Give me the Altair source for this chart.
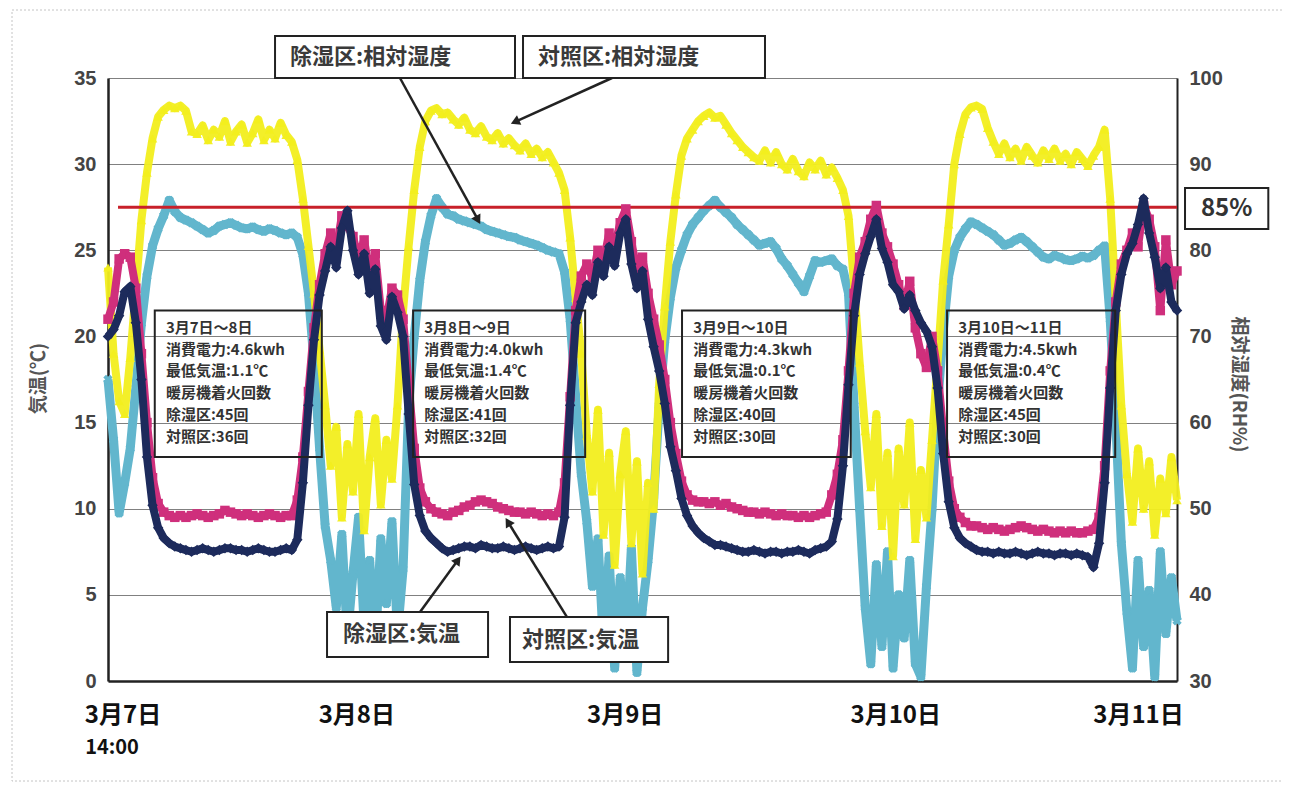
import json
import math
import pandas as pd
import altair as alt

# ---------------- data ----------------
# time: hours since 3月7日 14:00, sampled every 30 minutes
hours = [i * 0.5 for i in range(193)]

# 除湿区:気温 (℃)
temp_dehum = [
    20.0, 20.4, 21.2, 22.6, 22.9, 20.8, 17.5, 13.0, 10.2, 8.9, 8.3, 8.0, 7.8,
    7.7, 7.6, 7.5, 7.6, 7.7, 7.6, 7.5, 7.6, 7.7, 7.7, 7.6, 7.6, 7.5, 7.6, 7.7, 7.6, 7.5, 7.5, 7.6, 7.7, 7.6,
    8.2, 11.5, 16.0, 19.8, 22.4, 23.8, 25.2, 24.0, 26.3, 27.3, 25.0, 23.6, 24.8, 22.5, 23.9, 20.6, 19.8, 22.3,
    21.4, 20.0, 15.5, 11.4, 9.6, 8.7, 8.3, 8.0, 7.7, 7.5,
    7.6, 7.7, 7.8, 7.8, 7.7, 7.9, 7.8, 7.7, 7.7, 7.8, 7.7, 7.6, 7.7, 7.8, 7.7, 7.6, 7.7, 7.8, 7.7, 7.8,
    9.5, 16.0, 20.8, 22.0, 23.0, 22.4, 24.3, 23.5, 25.2, 24.1, 26.0, 26.8, 24.2, 22.8, 23.8, 21.0, 19.4, 18.0,
    16.1, 13.6, 12.2, 10.6, 9.6, 9.0, 8.6, 8.3, 8.1, 7.9, 7.9,
    7.8, 7.7, 7.6, 7.5, 7.5, 7.6, 7.5, 7.4, 7.5, 7.5, 7.4, 7.5, 7.5, 7.6, 7.5, 7.4, 7.6, 7.7, 7.8,
    8.1, 9.4, 12.5, 17.2, 21.2, 23.6, 24.8, 25.8, 26.8, 25.1, 24.3, 23.0, 22.6, 21.6, 22.4, 21.5, 20.8, 20.3,
    19.4, 17.0, 13.2, 10.4, 8.9, 8.3, 8.0, 7.8,
    7.6, 7.5, 7.5, 7.4, 7.5, 7.4, 7.4, 7.5, 7.4, 7.3, 7.4, 7.5, 7.4, 7.4, 7.3, 7.4, 7.4, 7.3, 7.4, 7.3, 7.2, 6.6,
    8.0, 11.5, 17.0, 21.5, 23.6, 24.8, 25.4, 26.5, 28.0, 26.0, 24.6, 22.8, 24.0, 22.0, 21.5,
]

# 対照区:気温 (℃)
temp_ctrl = [
    21.0, 22.0, 24.5, 24.8, 24.6, 22.8, 19.0, 15.0, 11.8, 10.3, 9.8, 9.6,
    9.5, 9.6, 9.5, 9.6, 9.7, 9.6, 9.5, 9.6, 9.7, 9.9, 9.8, 9.7, 9.6, 9.7, 9.6, 9.5, 9.6, 9.7, 9.6, 9.5, 9.6, 9.6,
    10.5, 13.0, 16.8, 20.5, 23.0, 24.8, 26.0, 25.0, 27.0, 26.4, 25.8, 24.5, 25.6, 23.6, 24.8, 21.5, 21.0, 22.8,
    22.4, 21.0, 17.2, 13.5, 11.2, 10.4, 10.0, 9.8,
    9.7, 9.6, 9.8, 9.9, 10.1, 10.2, 10.4, 10.5, 10.4, 10.3, 10.1, 10.0, 9.9, 9.8, 9.8, 9.7, 9.8, 9.7, 9.6, 9.7,
    9.6, 9.8,
    11.5, 16.5, 21.5, 23.5, 24.2, 23.4, 25.0, 24.3, 26.0, 25.2, 26.6, 27.4, 25.5, 23.8, 24.6, 22.5, 21.0, 19.5,
    17.5, 15.0, 13.2, 11.6, 10.8, 10.5,
    10.4, 10.4, 10.3, 10.4, 10.2, 10.3, 10.1, 10.0, 9.9, 9.8, 9.8, 9.7, 9.8, 9.7, 9.6, 9.7, 9.6, 9.6, 9.5, 9.6,
    9.5, 9.6, 9.7, 9.8,
    10.8, 12.0, 14.0, 18.0, 22.5, 24.6, 25.5, 26.8, 27.6, 26.0, 25.2, 24.2, 23.0, 21.8, 23.2, 20.5, 19.0, 18.2,
    20.0, 18.0, 14.5, 11.6, 10.0, 9.5, 9.2,
    9.0, 9.0, 8.9, 8.8, 8.9, 8.8, 8.7, 8.8, 8.9, 9.0, 8.9, 8.8, 8.7, 8.8, 8.7, 8.6, 8.7, 8.6, 8.7, 8.6, 8.6, 8.7, 8.8,
    9.5, 12.5, 18.0, 22.0, 24.2, 25.0, 26.0, 25.2, 27.6, 26.8, 25.2, 21.5, 25.6, 23.0, 23.8,
]

# 除湿区:相対湿度 (RH%)
rh_dehum = [
    65.0, 58.0, 49.5, 53.0, 57.0, 64.0, 71.5, 77.0, 80.5, 82.5, 84.0, 85.8, 84.5, 83.8,
    83.5, 83.2, 82.8, 82.4, 82.0, 82.3, 82.8, 83.0, 83.2, 82.9, 82.6, 82.5, 82.7, 82.4, 82.2, 82.5, 82.3, 82.0,
    81.8, 82.0, 81.5, 79.5,
    75.0, 67.0, 57.0, 48.0,
    44.0, 38.5, 47.0, 35.0, 42.5, 49.0, 36.5, 44.0, 33.5, 46.5, 39.0, 48.5, 35.5, 43.0,
    62.0, 70.0, 76.5, 81.0, 84.0, 86.0, 85.0,
    84.2, 84.0, 83.6, 83.4, 83.2, 83.0, 82.8, 82.4, 82.2, 82.0, 81.8, 81.6, 81.5, 81.2, 81.0, 80.8, 80.6, 80.3,
    80.0, 79.8, 79.6, 77.5,
    72.0, 63.0, 54.0, 48.5,
    41.0, 46.5, 34.0, 44.5, 31.5, 42.0, 33.0, 45.5, 31.0, 38.5, 44.0,
    51.0, 62.0,
    69.5, 74.5, 78.0, 80.0, 81.8, 83.0, 83.8, 84.6, 85.2, 85.8, 85.0, 84.4, 83.8, 83.0, 82.4, 81.8, 81.2, 80.6,
    80.8, 81.0, 80.2, 79.0, 78.2, 77.2, 76.2, 75.2, 77.0, 78.8, 78.6, 78.8, 79.0, 78.2, 77.8, 75.0, 62.0, 50.0,
    38.5, 32.0, 43.5, 34.0, 45.0, 31.5, 40.0, 35.0, 44.0, 32.0, 30.5, 41.0,
    50.0, 62.0, 70.5, 77.0, 80.0, 81.5, 82.5, 83.3, 83.0, 82.6, 82.2,
    81.8, 81.2, 80.6, 80.8, 81.2, 81.5, 81.0, 80.4, 79.8, 79.2, 79.0, 79.4, 79.2, 78.9, 78.8, 79.0, 79.3, 79.1, 79.4,
    80.0, 80.5, 72.0, 60.0, 46.0,
    38.0, 31.5, 44.0, 34.0, 40.5, 30.5, 45.0, 35.5, 42.0, 37.0,
]

# 対照区:相対湿度 (RH%)
rh_ctrl = [
    78.0, 68.0, 62.5, 61.0, 67.5, 75.5, 83.5, 89.0, 93.0, 95.5, 96.3, 96.8, 96.5, 96.8, 96.2, 93.8,
    93.5, 94.5, 92.8, 94.0, 93.2, 95.0, 92.6, 93.8, 94.6, 92.5, 93.6, 95.2, 92.8, 94.0, 93.0, 94.8, 93.4, 92.6,
    90.5, 86.0, 80.5, 75.0, 68.5, 62.0,
    55.0, 59.5, 49.0, 57.5, 52.0, 61.0, 47.5, 56.0, 60.5, 50.5, 58.0, 53.5, 62.0,
    73.0, 80.5, 87.0, 92.0, 95.0, 96.2, 96.5,
    95.8, 96.0, 95.2, 94.6, 95.4, 94.0, 93.6, 94.4, 93.2, 92.8, 93.6, 92.4, 93.0, 92.2, 91.6, 92.4, 91.2, 91.8,
    90.8, 91.4, 90.2, 89.0,
    87.0, 81.5, 74.5, 68.0,
    58.5, 52.0, 61.5, 47.0, 56.5, 43.5, 54.0, 59.0, 46.0, 55.5, 42.5, 53.0, 50.0,
    64.5, 73.5, 81.0, 86.5, 91.0, 93.0, 94.0, 95.0, 95.6, 96.0, 95.4, 95.6, 94.6, 93.6, 92.8, 92.0, 91.4, 90.8,
    90.4, 91.6, 90.2, 91.4, 90.0, 89.4, 90.6, 89.2, 88.6, 90.2, 89.4, 90.4, 88.8, 89.6, 88.4, 87.0, 84.0, 76.0,
    67.0,
    59.0, 52.5, 61.0, 48.0, 56.5, 44.5, 57.0, 50.5, 60.0, 46.5, 54.5, 49.0, 58.0,
    67.0, 76.5, 83.0, 90.0, 93.5, 95.8, 96.6, 96.8, 96.4, 94.2,
    92.6, 91.2, 92.4, 90.8, 91.8, 90.4, 92.0, 91.0, 90.2, 91.6, 90.6, 91.8, 90.4, 91.2, 90.0, 91.4, 90.6, 89.8, 91.0,
    92.0, 94.0, 86.0, 74.0, 62.0,
    54.0, 48.5, 57.0, 50.0, 55.5, 47.0, 53.5, 49.5, 56.0, 51.0,
]

for s in (temp_dehum, temp_ctrl, rh_dehum, rh_ctrl):
    assert len(s) == len(hours), len(s)

# x-axis labels
x_tick_hours = [1.3, 22.3, 46.4, 70.7, 92.5]
x_tick_labels = ["3月7日", "3月8日", "3月9日", "3月10日", "3月11日"]
start_time_label = "14:00"

# info boxes
period_labels = ["3月7日～8日", "3月8日～9日", "3月9日～10日", "3月10日～11日"]
power_kwh = [4.6, 4.0, 4.3, 4.5]
min_temp = [1.1, 1.4, 0.1, 0.4]
ignite_dehum = [45, 41, 40, 45]
ignite_ctrl = [36, 32, 30, 30]

threshold_rh = 85
series_names = ["除湿区:相対湿度", "対照区:相対湿度", "除湿区:気温", "対照区:気温"]

# ---------------- layout / styles ----------------
W, H = 1069, 603
X_DOM, T_DOM, RH_DOM = [0, 96], [0, 35], [30, 100]
JP = "Noto Sans CJK JP"
NAVY, MAGENTA, TEAL, YELLOW, RED = "#1d2b5c", "#cf2f7c", "#62b6cd", "#f2ee1e", "#c8202a"
INK = "#222222"

xs = alt.Scale(domain=X_DOM, nice=False, zero=False)
ts = alt.Scale(domain=T_DOM, nice=False, zero=False)
rs = alt.Scale(domain=RH_DOM, nice=False, zero=False)

label_expr = "{}[indexof({}, datum.value)]".format(
    json.dumps(x_tick_labels, ensure_ascii=False), json.dumps(x_tick_hours))

x_axis = alt.Axis(values=x_tick_hours, labelExpr=label_expr, title=None, grid=False,
                  ticks=False, domainColor=INK, domainWidth=2.5, labelFont=JP,
                  labelFontSize=24, labelFontWeight="bold", labelColor="#111",
                  labelPadding=22, labelFlush=False, labelOverlap=False)

t_axis = alt.Axis(orient="left", values=[0, 5, 10, 15, 20, 25, 30, 35], title="気温(℃)",
                  grid=True, gridColor="#808080", gridWidth=1, ticks=False,
                  domainColor=INK, domainWidth=2.5, labelFont="Liberation Sans",
                  labelFontSize=20, labelFontWeight="bold", labelColor="#444",
                  labelPadding=12, labelFlush=False, labelOverlap=False,
                  titleFont=JP, titleFontSize=19,
                  titleFontWeight="bold", titleColor="#555", titleAngle=270,
                  titleX=-70, titleY=300, titleAlign="center", titleBaseline="middle")

rh_axis = alt.Axis(orient="right", values=[30, 40, 50, 60, 70, 80, 90, 100],
                   title="相対湿度(RH%)", grid=False, ticks=False, domainColor=INK,
                   domainWidth=2, labelFont="Liberation Sans", labelFontSize=20,
                   labelFontWeight="bold", labelColor="#444", labelPadding=12,
                   labelFlush=False, labelOverlap=False, titleFont=JP, titleFontSize=19,
                   titleFontWeight="bold",
                   titleColor="#555", titleAngle=90, titleX=61, titleY=306,
                   titleAlign="center", titleBaseline="middle")


# every layer carries the same axis definition so that they merge into one
def Xh(f):
    return alt.X(f"{f}:Q", scale=xs, axis=x_axis)


def Tc(f):
    return alt.Y(f"{f}:Q", scale=ts, axis=t_axis)


def Rh(f):
    return alt.Y(f"{f}:Q", scale=rs, axis=rh_axis)


df = pd.DataFrame({"h": hours, "tA": temp_dehum, "tB": temp_ctrl,
                   "rA": rh_dehum, "rB": rh_ctrl})
base = alt.Chart(df)


def series(col, yfun, color, shape, size, sw, angle=0, opacity=1.0):
    line = base.mark_line(color=color, strokeWidth=sw, opacity=opacity,
                          strokeJoin="round").encode(x=Xh("h"), y=yfun(col))
    pts = base.mark_point(shape=shape, filled=True, size=size, color=color,
                          opacity=opacity, angle=angle).encode(x=Xh("h"), y=yfun(col))
    return [line, pts]


teal = series("rA", Rh, TEAL, "cross", 90, 9, angle=45)
yellow = series("rB", Rh, YELLOW, "triangle-up", 90, 8, opacity=0.95)

red_df = pd.DataFrame({"h1": [0.9], "h2": [96], "rh": [threshold_rh]})
red = alt.Chart(red_df).mark_rule(color=RED, strokeWidth=3).encode(
    x=Xh("h1"), x2="h2:Q", y=Rh("rh"))

magenta = series("tB", Tc, MAGENTA, "square", 90, 8)
navy = series("tA", Tc, NAVY, "diamond", 110, 8)

# ---------------- annotations (positions in hours / ℃) ----------------
info_left = [4.2, 27.4, 51.55, 75.35]
info_right = [19.2, 42.85, 66.7, 90.45]
info_df = pd.DataFrame({"h1": info_left, "h2": info_right,
                        "t1": [21.5] * 4, "t2": [13.0] * 4})
rows = []
line_step = 21.8 * (T_DOM[1] - T_DOM[0]) / H   # one text line, in ℃
for i in range(4):
    lines = [
        period_labels[i],
        f"消費電力:{power_kwh[i]:.1f}kwh",
        f"最低気温:{min_temp[i]:.1f}℃",
        "暖房機着火回数",
        f"除湿区:{ignite_dehum[i]}回",
        f"対照区:{ignite_ctrl[i]}回",
    ]
    for k, txt in enumerate(lines):
        rows.append({"h": info_left[i] + 1.0, "t": 20.5 - k * line_step, "txt": txt})
info_txt_df = pd.DataFrame(rows)

info_boxes = alt.Chart(info_df).mark_rect(fillOpacity=0, stroke=INK, strokeWidth=2).encode(
    x=Xh("h1"), x2="h2:Q", y=Tc("t1"), y2="t2:Q")
info_texts = alt.Chart(info_txt_df).mark_text(
    align="left", baseline="middle", font=JP,
    fontSize=15, fontWeight="bold", color="#333").encode(
    x=Xh("h"), y=Tc("t"), text="txt:N")

lab_df = pd.DataFrame({
    "txt": series_names,
    "h1": [15.0, 37.27, 19.67, 36.1],
    "h2": [36.55, 59.0, 34.13, 50.3],
    "t1": [37.44, 37.44, 4.0, 3.71],
    "t2": [35.0, 35.0, 1.39, 1.10],
    "th": [16.35, 38.62, 21.1, 37.18],
    "tt": [36.22, 36.22, 2.70, 2.40],
})
lab_boxes = alt.Chart(lab_df).mark_rect(fill="white", stroke=INK, strokeWidth=2).encode(
    x=Xh("h1"), x2="h2:Q", y=Tc("t1"), y2="t2:Q")
lab_texts = alt.Chart(lab_df).mark_text(
    align="left", baseline="middle", font=JP, fontSize=22, fontWeight="bold",
    color="#3a3a3a").encode(x=Xh("th"), y=Tc("tt"), text="txt:N")

arrows = pd.DataFrame({
    "h1": [26.22, 45.26, 28.02, 41.22],
    "t1": [35.0, 35.0, 4.0, 3.71],
    "h2": [33.23, 36.55, 31.43, 35.92],
    "t2": [26.76, 32.45, 7.02, 9.23],
})


def arrow_angle(r):
    dx = (r.h2 - r.h1) * W / (X_DOM[1] - X_DOM[0])
    dy = -(r.t2 - r.t1) * H / (T_DOM[1] - T_DOM[0])
    return math.degrees(math.atan2(dx, -dy)) % 360


arrows["ang"] = [arrow_angle(r) for r in arrows.itertuples()]
arrow_lines = alt.Chart(arrows).mark_rule(color=INK, strokeWidth=2.5).encode(
    x=Xh("h1"), x2="h2:Q", y=Tc("t1"), y2="t2:Q")
arrow_heads = alt.Chart(arrows).mark_point(shape="triangle-up", filled=True, size=110,
                                           color=INK, opacity=1).encode(
    x=Xh("h2"), y=Tc("t2"), angle=alt.Angle("ang:Q", scale=None))

tag_df = pd.DataFrame({"h1": [96.72], "h2": [104.2], "t1": [28.61], "t2": [26.23],
                       "hc": [100.46], "tc": [27.42], "txt": [f"{threshold_rh}%"]})
tag_box = alt.Chart(tag_df).mark_rect(fill="white", stroke=INK, strokeWidth=2).encode(
    x=Xh("h1"), x2="h2:Q", y=Tc("t1"), y2="t2:Q")
tag_txt = alt.Chart(tag_df).mark_text(align="center", baseline="middle", font=JP,
                                      fontSize=24, fontWeight="bold", color="#333").encode(
    x=Xh("hc"), y=Tc("tc"), text="txt:N")

start_df = pd.DataFrame({"h": [-2.05], "t": [-3.9], "txt": [start_time_label]})
start_txt = alt.Chart(start_df).mark_text(align="left", baseline="middle", font=JP,
                                          fontSize=20, fontWeight="bold", color="#111").encode(
    x=Xh("h"), y=Tc("t"), text="txt:N")

frame = alt.Chart(pd.DataFrame({"k": [0]})).mark_rect(
    fillOpacity=0, stroke="#c4c4c4", strokeWidth=1, strokeDash=[2, 2]).encode(
    x=alt.value(-96), x2=alt.value(1177), y=alt.value(-68), y2=alt.value(703))

hum = alt.layer(*teal, *yellow, red)
temp = alt.layer(*magenta, *navy, info_boxes, info_texts, arrow_lines, arrow_heads,
                 lab_boxes, lab_texts, tag_box, tag_txt, start_txt, frame)

chart = alt.layer(hum, temp).resolve_scale(y="independent").properties(
    width=W, height=H,
    autosize=alt.AutoSizeParams(type="none"),
    padding={"left": 100, "top": 70, "right": 105, "bottom": 102},
    background="white",
).configure_view(strokeWidth=0)

chart.save("out.html", embed_options={"renderer": "svg", "actions": False})
